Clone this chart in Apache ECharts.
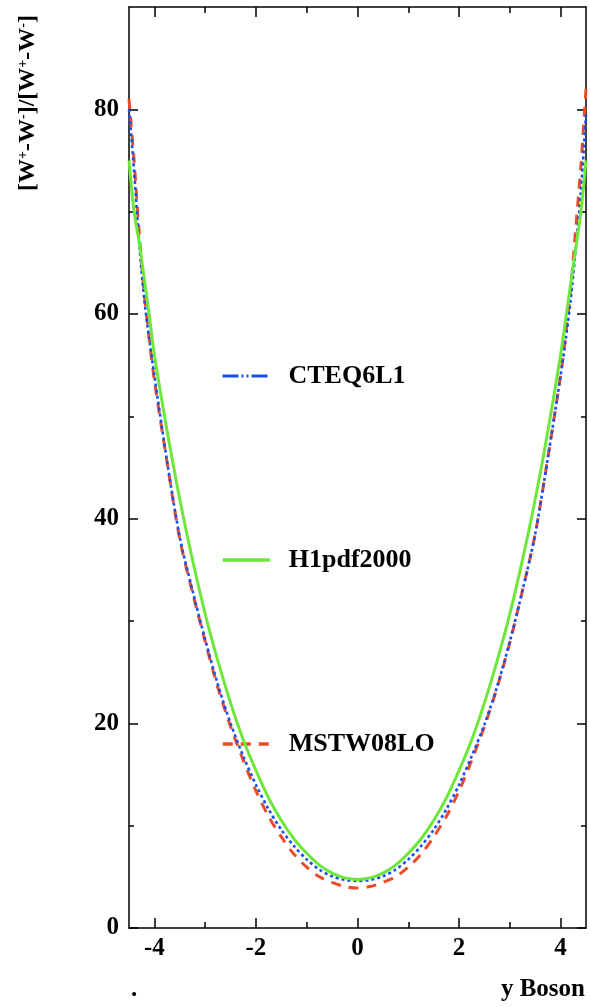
<!DOCTYPE html>
<html><head><meta charset="utf-8">
<script src="https://cdn.jsdelivr.net/npm/echarts@6/dist/echarts.min.js"></script>
<style>html,body{margin:0;padding:0;background:#fff}#c{width:590px;height:1007px}</style>
</head><body><div id="c"></div>
<script>
// ---- data ----
const xValues = [-4.5,-4.4,-4.3,-4.2,-4.1,-4.0,-3.75,-3.5,-3.25,-3.0,-2.75,-2.5,-2.25,-2.0,-1.75,-1.5,-1.25,-1.0,-0.75,-0.5,-0.25,0,
  0.25,0.5,0.75,1.0,1.25,1.5,1.75,2.0,2.25,2.5,2.75,3.0,3.25,3.5,3.75,4.0,4.1,4.2,4.3,4.4,4.5];
const cteq6l1 = [80,74,67,61.5,57.5,54,45.6,38.2,33,28.2,23.8,20.0,16.8,14.0,11.6,9.6,8.0,6.7,5.7,5.05,4.7,4.6,
  4.7,5.05,5.7,6.7,8.0,9.6,11.6,14.0,16.8,19.9,23.6,28.0,33,38.5,46,54,57.5,61.5,66.5,72,79.5];
const h1pdf2000 = [75,70,67,63.5,59.8,56.0,48.6,41.9,36.0,30.7,26.1,22.0,18.4,15.4,12.7,10.5,8.7,7.3,6.15,5.37,4.9,4.75,
  4.9,5.37,6.15,7.3,8.7,10.5,12.7,15.4,18.4,22.0,26.1,30.7,36.0,41.9,48.6,56.0,59.5,63,66.5,70,75];
const mstw08lo = [81,75,68,62,57.5,53.5,45.5,38,32.8,28.0,23.5,19.7,16.4,13.4,10.9,8.9,7.2,5.95,5.0,4.45,4.05,3.9,
  4.05,4.45,5.0,5.95,7.2,8.9,10.9,13.4,16.4,19.7,23.5,27.9,33,38.5,46,54,58,62.5,68.5,74.5,82];
const seriesNames = ['CTEQ6L1','H1pdf2000','MSTW08LO'];
const xMajorTicks = [-4,-2,0,2,4];
const xMinorTicks = [-3,-1,1,3];
const yMajorTicks = [0,20,40,60,80];
const yMinorTicks = [10,30,50,70];

const FONT = '"Liberation Serif", "Times New Roman", serif';
const BLUE = '#1450f0', GREEN = '#6de83a', RED = '#ec4b2a';

const zip = ys => xValues.map((x,i)=>[x, ys[i]]);

function xAx(pos, ticks, len, showLine, showLabel){
  return {type:'value', position:pos, min:-4.5, max:4.5, gridIndex:0,
    axisLine:{show:showLine, onZero:false, lineStyle:{color:'#000', width:1.5}},
    axisTick:{show:true, inside:true, length:len, customValues:ticks, lineStyle:{color:'#000', width:1.5}},
    axisLabel:{show:showLabel, customValues:ticks, color:'#000', fontFamily:FONT, fontWeight:'bold', fontSize:25, margin:8},
    splitLine:{show:false}};
}
function yAx(pos, ticks, len, showLine, showLabel){
  return {type:'value', position:pos, min:0, max:90, gridIndex:0,
    axisLine:{show:showLine, onZero:false, lineStyle:{color:'#000', width:1.5}},
    axisTick:{show:true, inside:true, length:len, customValues:ticks, lineStyle:{color:'#000', width:1.5}},
    axisLabel:{show:showLabel, customValues:ticks, color:'#000', fontFamily:FONT, fontWeight:'bold', fontSize:25, margin:10},
    splitLine:{show:false}};
}

function legendAt(name, top, lineStyle){
  return {show:true, orient:'horizontal', left:221, top:top, padding:0, itemWidth:47, itemHeight:14,
    data:[{name:name, lineStyle:lineStyle, itemStyle:{opacity:0, color:'transparent', borderWidth:0}}],
    textStyle:{color:'#000', fontFamily:FONT, fontWeight:'bold', fontSize:26, padding:[0,0,0,14]},
    selectedMode:false};
}

const chart = echarts.init(document.getElementById('c'), null, {renderer:'canvas'});
chart.setOption({
  animation:false,
  backgroundColor:'#fff',
  grid:{left:129, right:4, top:7, bottom:79, containLabel:false, outerBoundsMode:'none'},
  xAxis:[
    xAx('bottom', xMajorTicks, 10, true, true),
    xAx('bottom', xMinorTicks, 6, false, false),
    xAx('top', xMajorTicks, 10, true, false),
    xAx('top', xMinorTicks, 6, false, false)
  ],
  yAxis:[
    yAx('left', yMajorTicks, 9, true, true),
    yAx('left', yMinorTicks, 5, false, false),
    yAx('right', yMajorTicks, 9, true, false),
    yAx('right', yMinorTicks, 5, false, false)
  ],
  legend:[
    legendAt(seriesNames[0], 363, {color:BLUE, width:3, type:[16,3,2,3,2,3]}),
    legendAt(seriesNames[1], 547, {color:GREEN, width:3.5, type:'solid'}),
    legendAt(seriesNames[2], 731, {color:RED, width:3.5, type:[10,8]})
  ],
  series:[
    {name:seriesNames[2], type:'line', data:zip(mstw08lo), symbol:'none', smooth:0.3,
     lineStyle:{color:RED, width:3, type:[10,8]}, itemStyle:{color:RED}, z:2},
    {name:seriesNames[0], type:'line', data:zip(cteq6l1), symbol:'none', smooth:0.3,
     lineStyle:{color:BLUE, width:2.6, type:[3,3]}, itemStyle:{color:BLUE}, z:3},
    {name:seriesNames[1], type:'line', data:zip(h1pdf2000), symbol:'none', smooth:0.3,
     lineStyle:{color:GREEN, width:3, type:'solid'}, itemStyle:{color:GREEN}, z:4}
  ],
  graphic:[
    {type:'text', x:28, y:103, rotation:Math.PI/2, z:10,
     style:{text:'[W{s|+}-W{s|-}]/[W{s|+}-W{s|-}]', fill:'#000', font:'bold 24px '+FONT,
            align:'center', verticalAlign:'middle',
            rich:{s:{fontSize:14, fontWeight:'bold', fontFamily:FONT, fill:'#000', verticalAlign:'top'}}}},
    {type:'text', x:585, y:990, z:10,
     style:{text:'y Boson', fill:'#000', font:'bold 25px '+FONT, align:'right', verticalAlign:'middle'}},
    {type:'text', x:131, y:990, z:10,
     style:{text:'.', fill:'#000', font:'bold 25px '+FONT, align:'left', verticalAlign:'middle'}}
  ]
});
</script></body></html>
